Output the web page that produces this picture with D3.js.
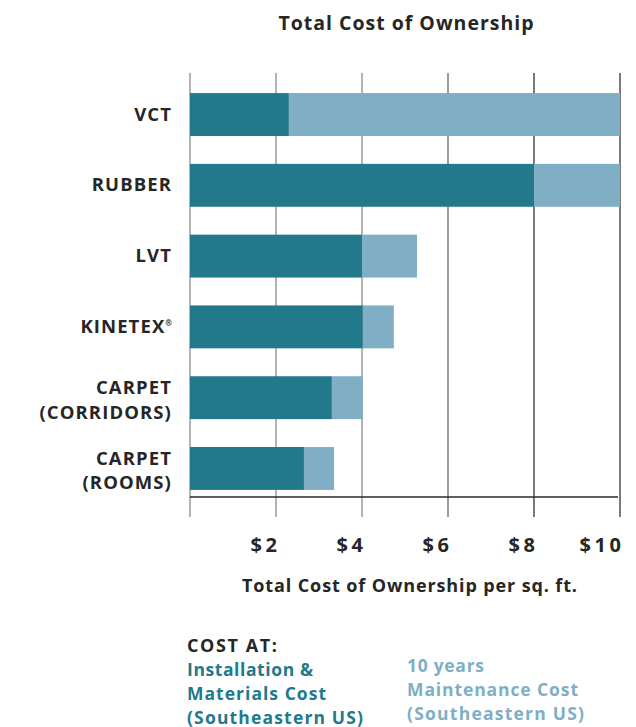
<!DOCTYPE html>
<html><head><meta charset="utf-8">
<script src="https://cdn.jsdelivr.net/npm/d3@7"></script>
<style>
body{margin:0;background:#fff;}
text{font-family:"Open Sans",Lato,sans-serif;font-weight:700;}
</style></head>
<body>
<svg id="chart" width="636" height="727"></svg>
<script>
const categories = [["VCT"],["RUBBER"],["LVT"],["KINETEX"],["CARPET","(CORRIDORS)"],["CARPET","(ROOMS)"]];
const categoryMarks = ["", "", "", "®", "", ""];
const installCost = [2.3, 8.0, 4.0, 4.02, 3.3, 2.65];
const maintenanceCost = [7.7, 2.0, 1.28, 0.72, 0.72, 0.70];
const xTicks = [0, 2, 4, 6, 8, 10];
const xTickLabels = ["", "$2", "$4", "$6", "$8", "$10"];
const title = "Total Cost of Ownership";
const xTitle = "Total Cost of Ownership per sq. ft.";
const legendHead = "COST AT:";
const legendInstall = ["Installation &", "Materials Cost", "(Southeastern US)"];
const legendMaint = ["10 years", "Maintenance Cost", "(Southeastern US)"];

const C_DARK = "#21798B", C_LIGHT = "#7FAEC5", C_TEXT = "#262626";
const svg = d3.select("#chart");
const x = d3.scaleLinear().domain([0, 10]).range([190, 620]);
const y = d3.scaleBand().domain(d3.range(categories.length)).range([86, 497]).paddingInner(0.394).paddingOuter(0.1);

function fit(sel, w){ sel.attr("textLength", w).attr("lengthAdjust", "spacing"); return sel; }

// title
fit(svg.append("text").attr("x", 406).attr("y", 30).attr("text-anchor","middle")
  .attr("font-size", 19.5).attr("fill", C_TEXT).text(title), 255);

// gridlines
const gridColors = ["#8a8a8a","#8a8a8a","#8a8a8a","#666","#333","#333"];
svg.append("g").selectAll("line").data(xTicks).join("line")
  .attr("x1", d => x(d)).attr("x2", d => x(d)).attr("y1", 73).attr("y2", 517)
  .attr("stroke", (d,i) => gridColors[i]).attr("stroke-width", 1.3);

// bars
const gb = svg.append("g");
gb.selectAll("rect.inst").data(installCost).join("rect").attr("class","inst")
  .attr("x", x(0)).attr("y", (d,i) => y(i)).attr("height", y.bandwidth())
  .attr("width", d => x(d) - x(0)).attr("fill", C_DARK);
gb.selectAll("rect.maint").data(maintenanceCost).join("rect").attr("class","maint")
  .attr("x", (d,i) => x(installCost[i])).attr("y", (d,i) => y(i)).attr("height", y.bandwidth())
  .attr("width", (d,i) => x(installCost[i] + d) - x(installCost[i])).attr("fill", C_LIGHT);

// x axis line
svg.append("line").attr("x1", x(0)).attr("x2", 618).attr("y1", 497).attr("y2", 497)
  .attr("stroke", "#2a2a2a").attr("stroke-width", 1.3);

// y labels
const gy = svg.append("g");
categories.forEach((lines, i) => {
  const cy = y(i) + y.bandwidth() / 2;
  const t = gy.append("text").attr("text-anchor", "end").attr("font-size", 18.5)
    .attr("fill", C_TEXT).attr("letter-spacing", 1.1);
  if (lines.length === 1) {
    t.append("tspan").attr("x", 172).attr("y", cy + 6).text(lines[0]);
    if (categoryMarks[i]) {
      t.append("tspan").attr("font-size", 8).attr("dy", -7).attr("letter-spacing", 0).text(categoryMarks[i]);
    }
  } else {
    t.append("tspan").attr("x", 172).attr("y", cy - 3.5).text(lines[0]);
    t.append("tspan").attr("x", 172).attr("y", cy + 21).text(lines[1]);
  }
});

// x tick labels
svg.append("g").selectAll("text").data(xTicks).join("text")
  .attr("x", d => x(d) + 4.5).attr("y", 552).attr("text-anchor", "end")
  .attr("font-size", 20).attr("letter-spacing", 3.6).attr("fill", C_TEXT)
  .text((d,i) => xTickLabels[i]);

// x title
fit(svg.append("text").attr("x", 409.5).attr("y", 592).attr("text-anchor","middle")
  .attr("font-size", 18).attr("fill", C_TEXT).text(xTitle), 335);

// legend
fit(svg.append("text").attr("x", 187).attr("y", 651.5).attr("font-size", 18)
  .attr("fill", C_TEXT).text(legendHead), 90);
const instWidths = [126, 139, 176];
legendInstall.forEach((s, i) => {
  fit(svg.append("text").attr("x", 187).attr("y", 675.5 + i * 24).attr("font-size", 17.5)
    .attr("fill", C_DARK).text(s), instWidths[i]);
});
const maintWidths = [77, 171, 177];
legendMaint.forEach((s, i) => {
  fit(svg.append("text").attr("x", 407).attr("y", 672 + i * 24).attr("font-size", 17.5)
    .attr("fill", C_LIGHT).text(s), maintWidths[i]);
});
</script>
</body></html>
